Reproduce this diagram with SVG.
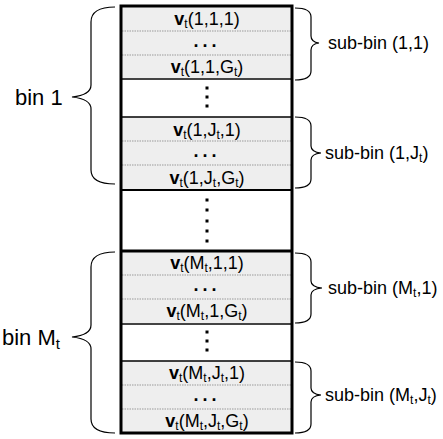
<svg xmlns="http://www.w3.org/2000/svg" width="443" height="439" viewBox="0 0 443 439">
<style>
.cell{fill:#eeeeee;stroke:none}
.dot{stroke:#9a9a9a;stroke-width:1;stroke-dasharray:1.5 1}
.t{font-family:"Liberation Sans",Arial,sans-serif;font-size:18px;fill:#000;text-anchor:middle}
.lbl{font-family:"Liberation Sans",Arial,sans-serif;font-size:18px;fill:#000}
.big{font-family:"Liberation Sans",Arial,sans-serif;font-size:22px;fill:#000}
.b{font-weight:bold}
.brace{fill:none;stroke:#000;stroke-width:1.2}
.sq{fill:#000}
</style>
<defs>
<g id="vdots3"><rect class="sq" x="-1.5" y="-1.5" width="3" height="3"/></g>
</defs>
<g id="column">
  <rect x="121" y="6" width="171" height="427" fill="#fff"/>
  <g id="subbin-1-1">
    <rect class="cell" x="121" y="6" width="171" height="73"/>
    <line class="dot" x1="122" y1="31" x2="291" y2="31"/>
    <line class="dot" x1="122" y1="55" x2="291" y2="55"/>
    <text class="t" x="207" y="25"><tspan class="b">v</tspan><tspan font-size="12" dy="3">t</tspan><tspan dy="-3">(1,1,1)</tspan></text>
    <text class="t b" x="207" y="47" letter-spacing="4">...</text>
    <text class="t" x="207" y="73"><tspan class="b">v</tspan><tspan font-size="12" dy="3">t</tspan><tspan dy="-3">(1,1,G</tspan><tspan font-size="12" dy="3">t</tspan><tspan dy="-3">)</tspan></text>
  </g>
  <g id="subbin-1-J">
    <rect class="cell" x="121" y="117" width="171" height="73"/>
    <line class="dot" x1="122" y1="141" x2="291" y2="141"/>
    <line class="dot" x1="122" y1="165" x2="291" y2="165"/>
    <text class="t" x="207" y="136"><tspan class="b">v</tspan><tspan font-size="12" dy="3">t</tspan><tspan dy="-3">(1,J</tspan><tspan font-size="12" dy="3">t</tspan><tspan dy="-3">,1)</tspan></text>
    <text class="t b" x="207" y="157" letter-spacing="4">...</text>
    <text class="t" x="207" y="184"><tspan class="b">v</tspan><tspan font-size="12" dy="3">t</tspan><tspan dy="-3">(1,J</tspan><tspan font-size="12" dy="3">t</tspan><tspan dy="-3">,G</tspan><tspan font-size="12" dy="3">t</tspan><tspan dy="-3">)</tspan></text>
  </g>
  <g id="subbin-M-1">
    <rect class="cell" x="121" y="251" width="171" height="73"/>
    <line class="dot" x1="122" y1="275" x2="291" y2="275"/>
    <line class="dot" x1="122" y1="299" x2="291" y2="299"/>
    <text class="t" x="207" y="269"><tspan class="b">v</tspan><tspan font-size="12" dy="3">t</tspan><tspan dy="-3">(M</tspan><tspan font-size="12" dy="3">t</tspan><tspan dy="-3">,1,1)</tspan></text>
    <text class="t b" x="207" y="291" letter-spacing="4">...</text>
    <text class="t" x="207" y="317"><tspan class="b">v</tspan><tspan font-size="12" dy="3">t</tspan><tspan dy="-3">(M</tspan><tspan font-size="12" dy="3">t</tspan><tspan dy="-3">,1,G</tspan><tspan font-size="12" dy="3">t</tspan><tspan dy="-3">)</tspan></text>
  </g>
  <g id="subbin-M-J">
    <rect class="cell" x="121" y="361" width="171" height="72"/>
    <line class="dot" x1="122" y1="385" x2="291" y2="385"/>
    <line class="dot" x1="122" y1="409" x2="291" y2="409"/>
    <text class="t" x="207" y="379"><tspan class="b">v</tspan><tspan font-size="12" dy="3">t</tspan><tspan dy="-3">(M</tspan><tspan font-size="12" dy="3">t</tspan><tspan dy="-3">,J</tspan><tspan font-size="12" dy="3">t</tspan><tspan dy="-3">,1)</tspan></text>
    <text class="t b" x="207" y="401" letter-spacing="4">...</text>
    <text class="t" x="207" y="427"><tspan class="b">v</tspan><tspan font-size="12" dy="3">t</tspan><tspan dy="-3">(M</tspan><tspan font-size="12" dy="3">t</tspan><tspan dy="-3">,J</tspan><tspan font-size="12" dy="3">t</tspan><tspan dy="-3">,G</tspan><tspan font-size="12" dy="3">t</tspan><tspan dy="-3">)</tspan></text>
  </g>
  <g id="separators">
    <line x1="121" y1="79" x2="292" y2="79" stroke="#444" stroke-width="2"/>
    <line x1="121" y1="117" x2="292" y2="117" stroke="#000" stroke-width="1.5"/>
    <line x1="121" y1="190" x2="292" y2="190" stroke="#000" stroke-width="2"/>
    <line x1="121" y1="251" x2="292" y2="251" stroke="#000" stroke-width="3"/>
    <line x1="121" y1="324" x2="292" y2="324" stroke="#444" stroke-width="2"/>
    <line x1="121" y1="361" x2="292" y2="361" stroke="#000" stroke-width="1.5"/>
  </g>
  <g id="vdots">
    <use href="#vdots3" x="207" y="88"/><use href="#vdots3" x="207" y="97"/><use href="#vdots3" x="207" y="106"/>
    <use href="#vdots3" x="207" y="200"/><use href="#vdots3" x="207" y="210"/><use href="#vdots3" x="207" y="221"/><use href="#vdots3" x="207" y="231"/><use href="#vdots3" x="207" y="241"/>
    <use href="#vdots3" x="207" y="332"/><use href="#vdots3" x="207" y="341"/><use href="#vdots3" x="207" y="350"/>
  </g>
  <rect x="121" y="6" width="171" height="427" fill="none" stroke="#000" stroke-width="3"/>
</g>
<g id="connectors">
  <path class="brace" d="M115,7 Q91,7 91,22 L91,85 Q91,95 72,97 Q91,99 91,109 L91,170 Q91,184 115,184"/>
  <path class="brace" d="M115,252 Q91,252 91,267 L91,325 Q91,335 72,337 Q91,339 91,349 L91,419 Q91,433 115,433"/>
  <path class="brace" d="M295,8 Q311,8 311,17 L311,36 Q311,42 319,43 Q311,44 311,50 L311,71 Q311,80 295,80"/>
  <path class="brace" d="M295,117 Q311,117 311,126 L311,146 Q311,152 321,153 Q311,154 311,160 L311,179 Q311,188 295,188"/>
  <path class="brace" d="M295,253 Q311,253 311,262 L311,281 Q311,287 322,288 Q311,289 311,295 L311,314 Q311,323 295,323"/>
  <path class="brace" d="M295,362 Q311,362 311,371 L311,388 Q311,394 321,395 Q311,396 311,402 L311,424 Q311,433 295,433"/>
</g>
<g id="labels">
  <text class="big" x="15" y="105">bin 1</text>
  <text class="big" x="2" y="345">bin M<tspan font-size="15" dy="4">t</tspan></text>
  <text class="lbl" x="328" y="49">sub-bin (1,1)</text>
  <text class="lbl" x="325" y="159">sub-bin (1,J<tspan font-size="12" dy="3">t</tspan><tspan dy="-3">)</tspan></text>
  <text class="lbl" x="328" y="294">sub-bin (M<tspan font-size="12" dy="3">t</tspan><tspan dy="-3">,1)</tspan></text>
  <text class="lbl" x="325" y="401">sub-bin (M<tspan font-size="12" dy="3">t</tspan><tspan dy="-3">,J</tspan><tspan font-size="12" dy="3">t</tspan><tspan dy="-3">)</tspan></text>
</g>
</svg>
